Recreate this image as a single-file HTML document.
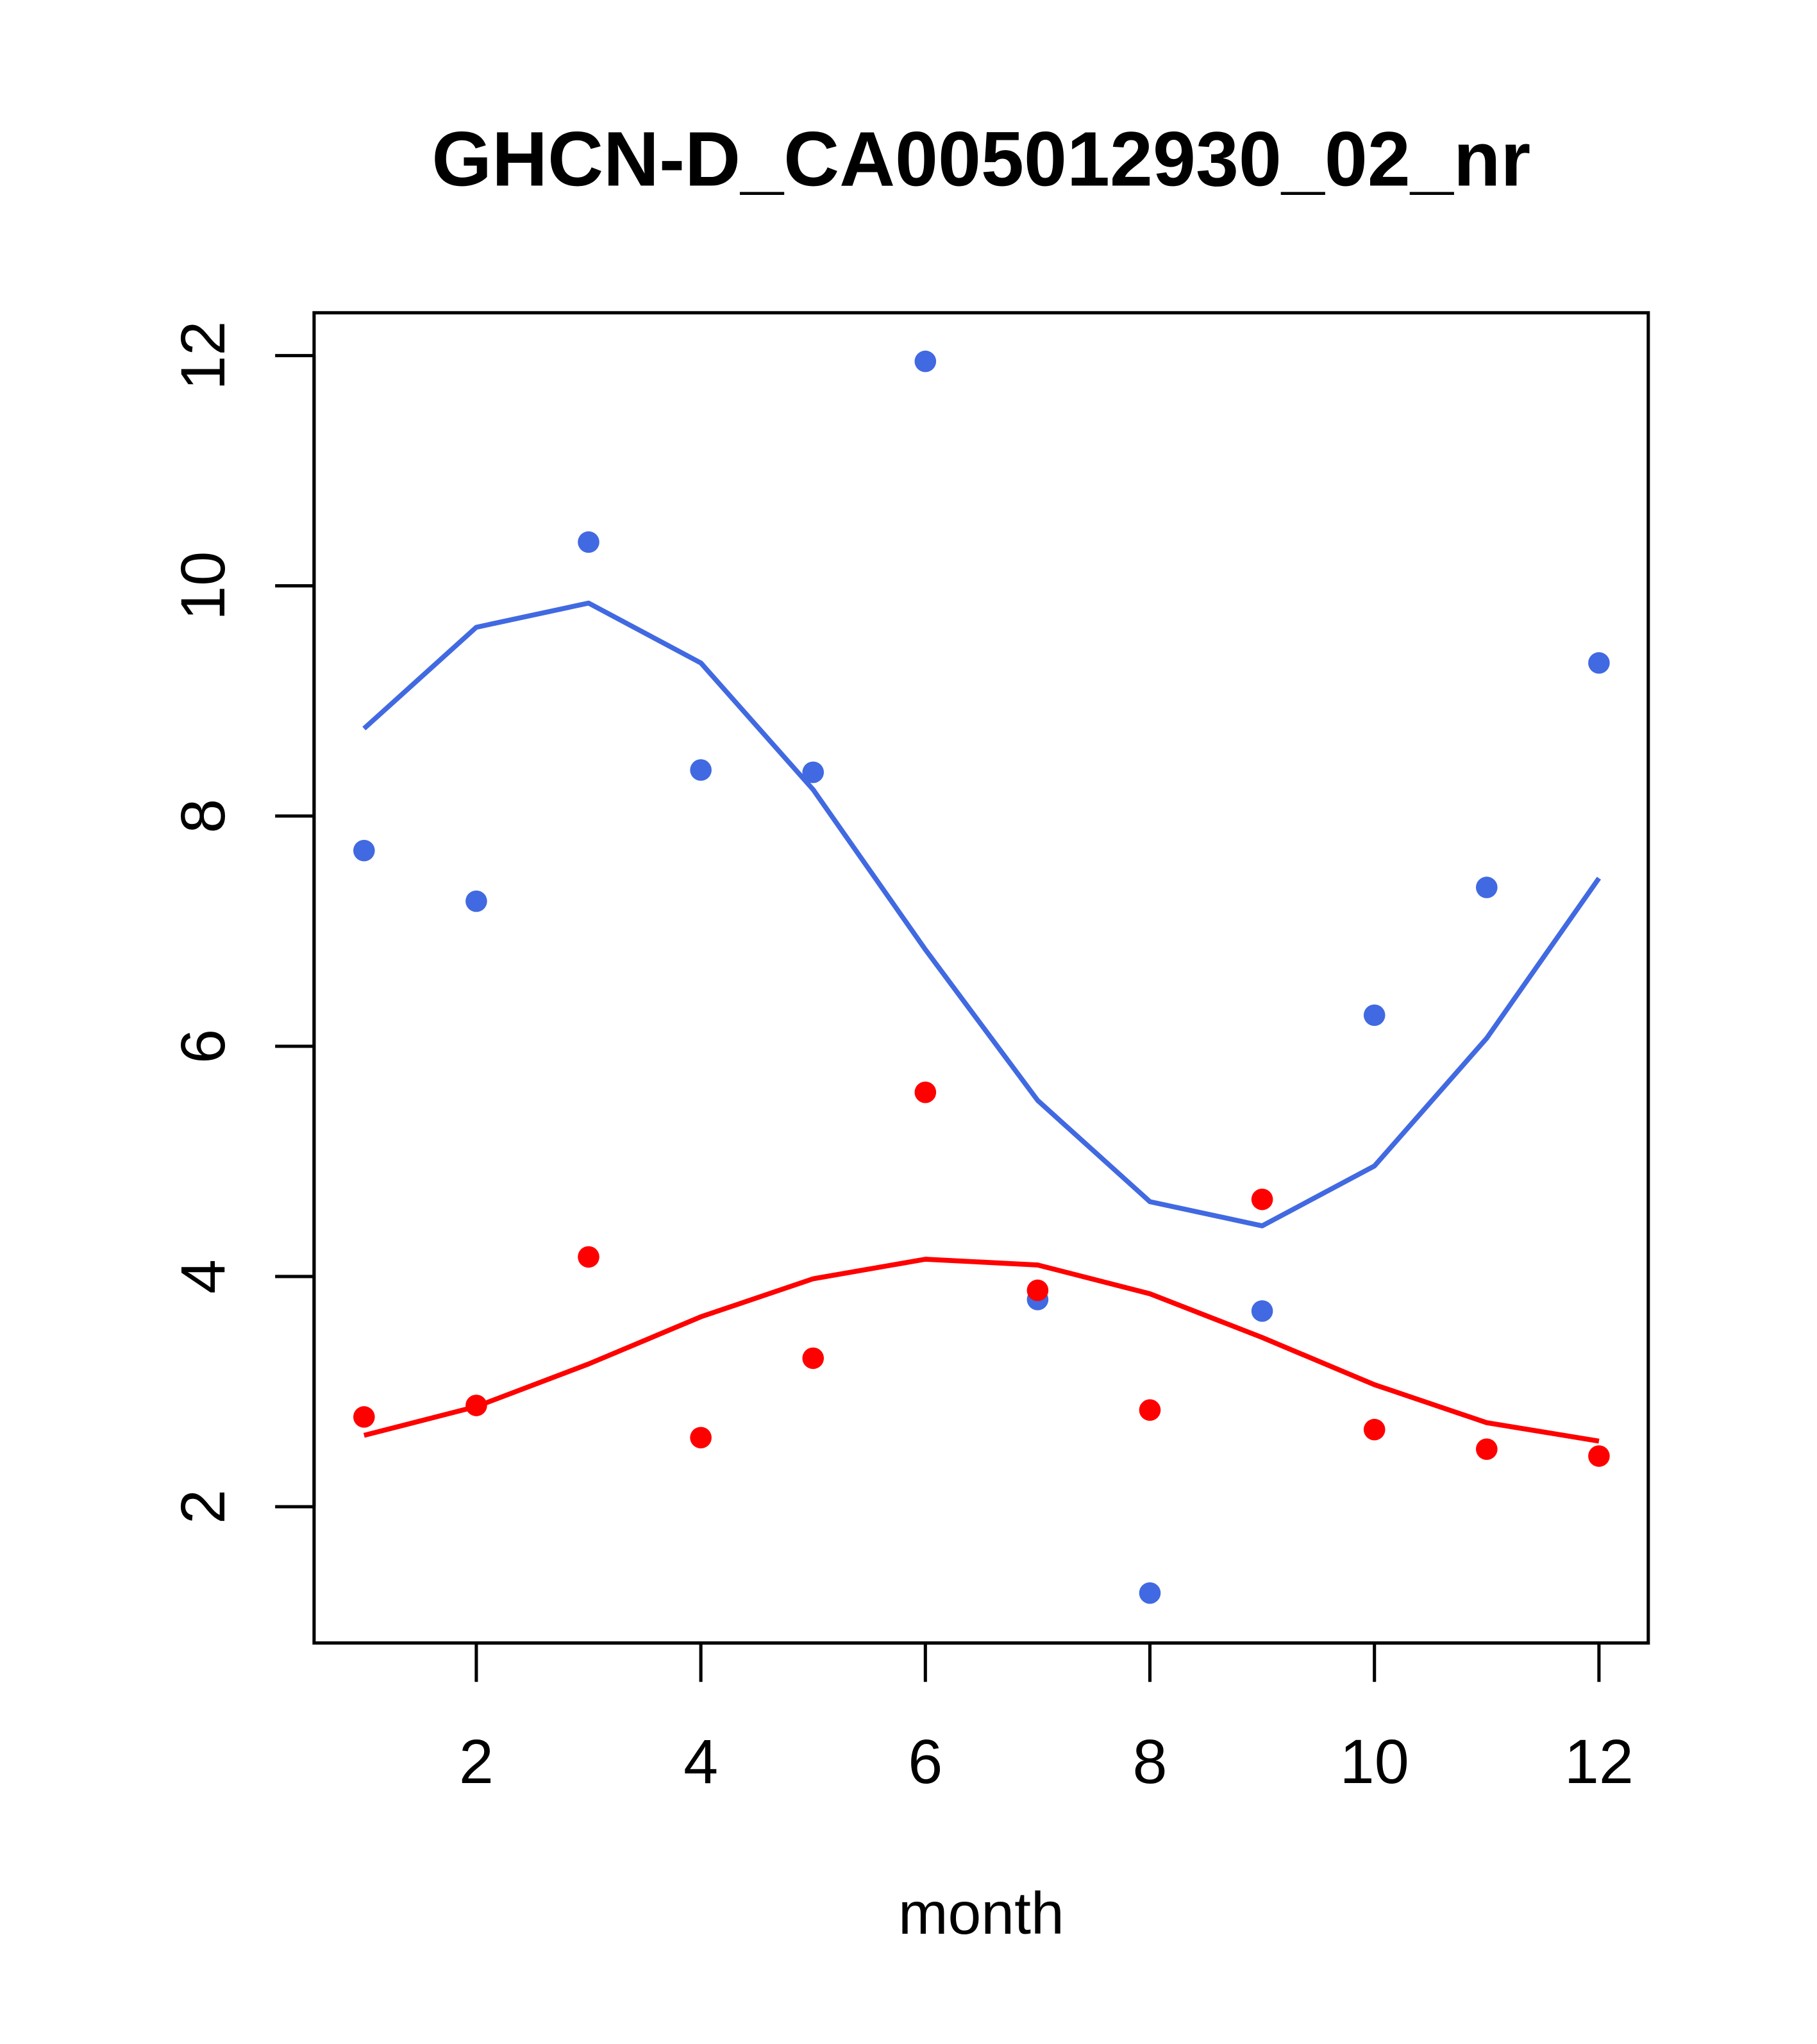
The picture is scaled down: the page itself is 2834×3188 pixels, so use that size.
<!DOCTYPE html>
<html><head><meta charset="utf-8"><style>html,body{margin:0;padding:0;background:#fff}svg{display:block}</style></head>
<body>
<svg id="chart" width="2834" height="3188" viewBox="0 0 1400 1575" preserveAspectRatio="none" xmlns="http://www.w3.org/2000/svg" font-family="Liberation Sans, Arial, sans-serif">
<rect width="1400" height="1575" fill="#fff"/>
<text x="756" y="143" text-anchor="middle" font-size="59.5" font-weight="bold">GHCN-D_CA005012930_02_nr</text>
<rect x="242" y="241" width="1028" height="1025" fill="none" stroke="#000" stroke-width="2.5"/>
<text x="756" y="1490" text-anchor="middle" font-size="46">month</text>
<g id="axes"></g><g id="marks"></g>
</svg>
<script>
const months = [1,2,3,4,5,6,7,8,9,10,11,12];
const bluePoints = [7.70,7.26,10.38,8.40,8.38,11.95,3.80,1.25,3.70,6.27,7.38,9.33];
const blueLine = [8.76,9.64,9.85,9.33,8.23,6.84,5.53,4.65,4.44,4.96,6.07,7.46];
const redPoints = [2.78,2.88,4.17,2.60,3.29,5.60,3.88,2.84,4.67,2.67,2.50,2.44];
const redLine = [2.62,2.87,3.24,3.65,3.98,4.15,4.10,3.85,3.47,3.06,2.73,2.57];
const xTicks = [2,4,6,8,10,12];
const yTicks = [2,4,6,8,10,12];
const NS='http://www.w3.org/2000/svg';
function xs(m){return 367+(m-2)*86.5;}
function ys(v){return 274+(12-v)*88.7;}
const axes=document.getElementById('axes'), marks=document.getElementById('marks');
function mk(t,a,p){const e=document.createElementNS(NS,t);for(const k in a)e.setAttribute(k,a[k]);p.appendChild(e);return e;}
let xa=mk('line',{x1:xs(2),x2:xs(12),y1:1266,y2:1266,stroke:'#000','stroke-width':2.5},axes);


xTicks.forEach(t=>{
 const l=mk('line',{x1:xs(t),x2:xs(t),y1:1266,y2:1296,stroke:'#000','stroke-width':2.5},axes);
 
 
 const tx=mk('text',{x:xs(t),y:1374,'text-anchor':'middle','font-size':48},axes);tx.textContent=t;
 
 
});
let ya=mk('line',{x1:242,x2:242,y1:ys(2),y2:ys(12),stroke:'#000','stroke-width':2.5},axes);


yTicks.forEach(t=>{
 const l=mk('line',{x1:212,x2:242,y1:ys(t),y2:ys(t),stroke:'#000','stroke-width':2.5},axes);
 
 
 const tx=mk('text',{x:0,y:0,'text-anchor':'middle','font-size':48,transform:`translate(173,${ys(t)}) rotate(-90)`},axes);tx.textContent=t;
 
 
});
function line(vals,col,name){
 const p=mk('polyline',{points:vals.map((v,i)=>xs(months[i])+','+ys(v)).join(' '),fill:'none',stroke:col,'stroke-width':3.8,'stroke-linejoin':'round'},marks);
 
 
}
function pts(vals,col,name){
 vals.forEach((v,i)=>{const c=mk('circle',{cx:xs(months[i]),cy:ys(v),r:8.3,fill:col},marks);
 
 });
}
line(blueLine,'#4169e1','blue-smooth-line');
line(redLine,'#ff0000','red-smooth-line');
pts(bluePoints,'#4169e1','blue-point');
pts(redPoints,'#ff0000','red-point');
</script>
</body></html>
